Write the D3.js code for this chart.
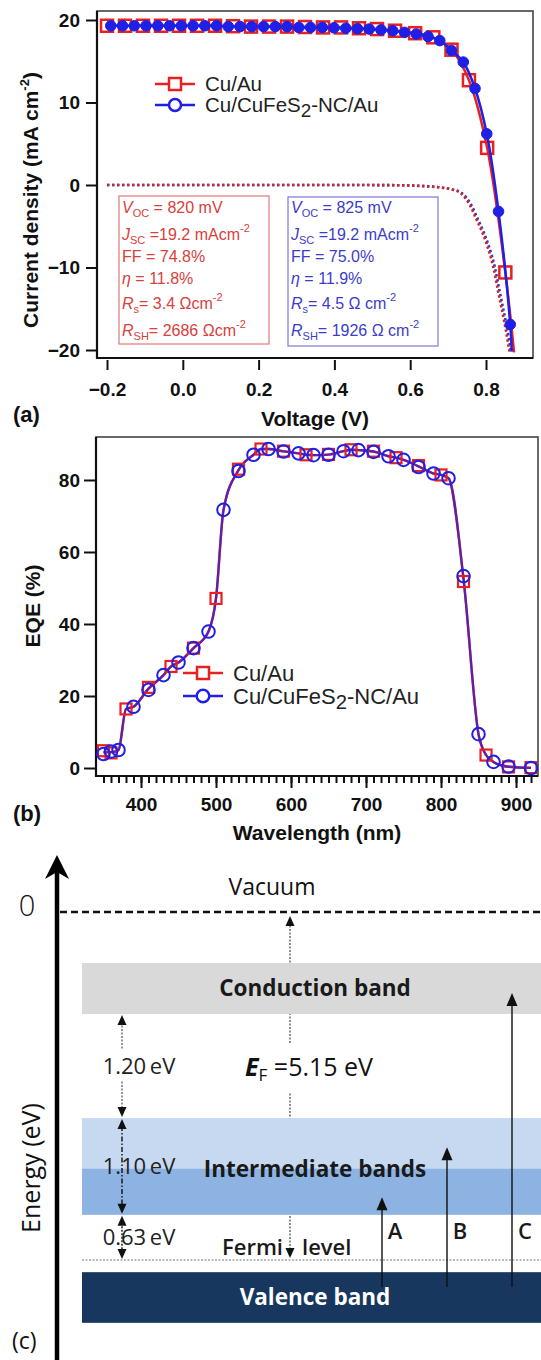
<!DOCTYPE html>
<html lang="en">
<head>
<meta charset="UTF-8">
<title>J-V, EQE and band diagram</title>
<script src="https://d3js.org/d3.v7.min.js"></script>
<style>
  * { margin: 0; padding: 0; }
  body { background: #fff; width: 541px; height: 1360px; overflow: hidden; }
  svg { display: block; font-family: 'Liberation Sans', Arial, sans-serif; }
  .diag text { font-family: 'Open Sans', 'Noto Sans', sans-serif; }
  .axis text { font-weight: bold; font-size: 19px; fill: #111; }
  .axis line { stroke: #111; stroke-width: 2; }
</style>
</head>
<body>
<svg id="fig" width="541" height="1360"></svg>
<script>
// ---- (a) J-V curves ----
const jvTicks = [-0.2, 0.0, 0.2, 0.4, 0.6, 0.8];
const jTicks = [-20, -10, 0, 10, 20];

// Cu/Au (red squares)
const auV = [-0.2, -0.1525, -0.105, -0.0575, -0.01, 0.0375, 0.085, 0.1325, 0.18, 0.2275, 0.275, 0.3225,
  0.37, 0.4175, 0.465, 0.5125, 0.56, 0.613, 0.661, 0.709, 0.755, 0.803, 0.851];
const auJ = [19.3, 19.3, 19.3, 19.3, 19.3, 19.3, 19.3, 19.25, 19.2, 19.2, 19.2, 19.15,
  19.1, 19.1, 19.0, 18.9, 18.7, 18.4, 17.9, 16.4, 12.7, 4.5, -10.6];
const auLineEnd = [0.874, -20.3];

// Cu/CuFeS2-NC/Au (blue circles)
const ncV = [-0.19, -0.159, -0.128, -0.097, -0.066, -0.035, -0.004, 0.027, 0.058, 0.089, 0.12, 0.151,
  0.182, 0.213, 0.244, 0.275, 0.306, 0.337, 0.368, 0.399, 0.43, 0.461, 0.492, 0.523, 0.554, 0.585,
  0.616, 0.647, 0.678, 0.709, 0.74, 0.771, 0.802, 0.833, 0.864];
const ncJ = [19.3, 19.3, 19.3, 19.3, 19.3, 19.3, 19.3, 19.3, 19.3, 19.3, 19.2, 19.2,
  19.2, 19.2, 19.2, 19.2, 19.1, 19.1, 19.1, 19.05, 19.0, 18.95, 18.9, 18.8, 18.7, 18.5,
  18.3, 18.0, 17.5, 16.3, 14.9, 11.7, 6.2, -3.2, -16.9];
const ncLineEnd = [0.868, -20.2];

// dark curves (dotted)
const darkAuV = [-0.2, 0.0, 0.2, 0.4, 0.55, 0.6, 0.64, 0.68, 0.71, 0.731, 0.758, 0.775, 0.789, 0.802, 0.819, 0.832, 0.85, 0.862];
const darkAuJ = [0.0, 0.0, 0.0, 0.0, -0.02, -0.06, -0.15, -0.3, -0.55, -0.9, -2.5, -4.2, -5.6, -7.2, -9.9, -12.9, -17.0, -20.2];
const darkNcV = [-0.2, 0.0, 0.2, 0.4, 0.55, 0.6, 0.64, 0.68, 0.712, 0.734, 0.762, 0.779, 0.793, 0.806, 0.823, 0.836, 0.854, 0.866];
const darkNcJ = [0.0, 0.0, 0.0, 0.0, -0.02, -0.06, -0.15, -0.3, -0.55, -0.9, -2.5, -4.2, -5.6, -7.2, -9.9, -12.9, -17.0, -20.2];

// device parameters: [Cu/Au, Cu/CuFeS2-NC/Au]
const pVoc = ['820', '825'];
const pJsc = ['19.2', '19.2'];
const pFF = ['74.8', '75.0'];
const pEta = ['11.8', '11.9'];
const pRs = ['3.4', '4.5'];
const pRsh = ['2686', '1926'];

const seriesNames = ['Cu/Au', 'Cu/CuFeS'];

// ---- (b) EQE ----
const eqeXTicks = [400, 500, 600, 700, 800, 900];
const eqeYTicks = [0, 20, 40, 60, 80];
const eqeAuNm = [350, 360, 380, 410, 440, 470, 500, 530, 560, 590, 620, 650, 680, 710, 740, 770, 800, 830, 860, 890, 920];
const eqeAu = [4.8, 4.2, 16.4, 22.4, 28.2, 33.3, 47.1, 83.0, 88.6, 88.0, 87.0, 87.1, 88.4, 88.0, 86.2, 84.0, 81.4, 51.8, 3.6, 0.3, 0.1];
const eqeNcNm = [350, 360, 370, 390, 410, 430, 450, 470, 490, 510, 530, 550, 570, 590, 610, 630, 650, 670, 690, 710,
  730, 750, 770, 790, 810, 830, 850, 870, 890, 920];
const eqeNc = [3.9, 4.6, 5.0, 17.0, 21.7, 25.8, 29.3, 33.3, 37.9, 71.7, 82.5, 87.0, 88.6, 87.9, 87.4, 86.9, 87.0, 88.0, 88.3, 87.8,
  86.6, 85.6, 83.6, 81.8, 80.5, 53.3, 9.4, 1.7, 0.4, 0.0];

// ---- (c) band diagram (schematic energy, eV below vacuum) ----
const levelE = [0, -5.15];                 // vacuum, Fermi level
const bandNames = ['Conduction band', 'Intermediate bands', '', 'Valence band'];
const bandTop = [-0.755, -3.05, -3.80, -5.33];
const bandBottom = [-1.51, -4.48, -4.48, -6.08];
const gapLabels = ['1.20', '1.10', '0.63'];
const gapFrom = [-1.51, -3.05, -4.48];
const gapTo = [-3.05, -4.48, -5.15];
const transNames = ['A', 'B', 'C'];
const transFrom = -5.55;
const transTo = [-4.22, -3.48, -1.20];
const fermiEF = '5.15';

const RED = '#e8201f', BLUE = '#1f1fe6';
const RED_T = '#d8403c', BLUE_T = '#3c3cc8';
const fig = d3.select('#fig');

// rich text helper: segs = [[text, kind]] kind: '', 'i', 'bi', 'sub', 'sup'
function rich(sel, segs, small) {
  let shift = 0;
  segs.forEach(([t, k]) => {
    const ts = sel.append('tspan').text(t);
    let target = 0;
    if (k === 'sub') target = small[1];
    if (k === 'sup') target = -small[2];
    ts.attr('dy', target - shift);
    shift = target;
    if (k === 'sub' || k === 'sup') ts.attr('font-size', small[0]);
    if (k === 'i') ts.attr('font-style', 'italic');
    if (k === 'bi') ts.attr('font-style', 'italic').attr('font-weight', 'bold');
  });
}

// ================= (a) =================
const xJ = d3.scaleLinear().domain([-0.2264, 0.924]).range([97, 533]);
const yJ = d3.scaleLinear().domain([-20.97, 21.09]).range([358, 11]);

const gA = fig.append('g');
gA.append('rect').attr('x', 97).attr('y', 11).attr('width', 436).attr('height', 347)
  .attr('fill', 'none').attr('stroke', '#444').attr('stroke-width', 1.6);

gA.append('g').attr('class', 'axis').attr('transform', 'translate(97,0)')
  .call(d3.axisLeft(yJ).tickValues(jTicks).tickSize(11).tickPadding(6).tickFormat(d3.format('d')))
  .call(g => g.select('.domain').remove());
gA.append('g').attr('class', 'axis').attr('transform', 'translate(0,360)')
  .call(d3.axisBottom(xJ).tickValues(jvTicks).tickSize(10).tickPadding(13).tickFormat(d3.format('.1f')))
  .call(g => g.select('.domain').remove());
gA.append('line').attr('x1', 97).attr('x2', 97).attr('y1', 11).attr('y2', 359).attr('stroke', '#111').attr('stroke-width', 2.2);
gA.append('line').attr('x1', 96).attr('x2', 533).attr('y1', 358).attr('y2', 358).attr('stroke', '#111').attr('stroke-width', 2.2);

// axis titles
gA.append('text').attr('transform', 'translate(38,200) rotate(-90)').attr('text-anchor', 'middle')
  .attr('font-size', 21).attr('font-weight', 'bold').attr('fill', '#111')
  .call(s => rich(s, [['Current density (mA cm', ''], ['-2', 'sup'], [')', '']], [13, 5, 9]));
gA.append('text').attr('x', 315).attr('y', 426).attr('text-anchor', 'middle')
  .attr('font-size', 21).attr('font-weight', 'bold').attr('fill', '#111').text('Voltage (V)');
gA.append('text').attr('x', 13).attr('y', 422).attr('font-size', 22).attr('font-weight', 'bold')
  .attr('fill', '#111').text('(a)');

const clipA = fig.append('clipPath').attr('id', 'clipA');
clipA.append('rect').attr('x', 97).attr('y', 11).attr('width', 436).attr('height', 347);
const plotA = gA.append('g').attr('clip-path', 'url(#clipA)');

// dark curves
const lineJ = d3.line().x(d => xJ(d[0])).y(d => yJ(d[1])).curve(d3.curveMonotoneX);
plotA.append('path').datum(d3.zip(darkNcV, darkNcJ)).attr('d', lineJ)
  .attr('fill', 'none').attr('stroke', '#3535c8').attr('stroke-width', 2.6)
  .attr('stroke-dasharray', '2.4,2.6');
plotA.append('path').datum(d3.zip(darkAuV, darkAuJ)).attr('d', lineJ)
  .attr('fill', 'none').attr('stroke', '#c8282e').attr('stroke-width', 2.6)
  .attr('stroke-dasharray', '2.4,2.6');

// light curves
const lineJc = d3.line().x(d => xJ(d[0])).y(d => yJ(d[1])).curve(d3.curveCatmullRom);
plotA.append('path').datum(d3.zip(auV, auJ).concat([auLineEnd])).attr('d', lineJc)
  .attr('fill', 'none').attr('stroke', RED).attr('stroke-width', 2.5);
plotA.selectAll('rect.au').data(d3.zip(auV, auJ)).join('rect').attr('class', 'au')
  .attr('x', d => xJ(d[0]) - 6).attr('y', d => yJ(d[1]) - 6).attr('width', 12).attr('height', 12)
  .attr('fill', 'none').attr('stroke', RED).attr('stroke-width', 2.5);
plotA.append('path').datum(d3.zip(ncV, ncJ).concat([ncLineEnd])).attr('d', lineJc)
  .attr('fill', 'none').attr('stroke', BLUE).attr('stroke-width', 2.5);
plotA.selectAll('circle.nc').data(d3.zip(ncV, ncJ)).join('circle').attr('class', 'nc')
  .attr('cx', d => xJ(d[0])).attr('cy', d => yJ(d[1])).attr('r', 5.3)
  .attr('fill', BLUE).attr('stroke', BLUE).attr('stroke-width', 1);

// legend
function legend(g, x0, y0, dy, fs, rSq, rCi) {
  [0, 1].forEach(i => {
    const y = y0 + i * dy;
    const c = i === 0 ? RED : BLUE;
    g.append('line').attr('x1', x0).attr('x2', x0 + 40).attr('y1', y).attr('y2', y)
      .attr('stroke', c).attr('stroke-width', 2.5);
    if (i === 0) {
      g.append('rect').attr('x', x0 + 20 - rSq).attr('y', y - rSq).attr('width', 2 * rSq).attr('height', 2 * rSq)
        .attr('fill', '#fff').attr('stroke', c).attr('stroke-width', 2.5);
    } else {
      g.append('circle').attr('cx', x0 + 20).attr('cy', y).attr('r', rCi)
        .attr('fill', '#fff').attr('stroke', c).attr('stroke-width', 2.5);
    }
    const t = g.append('text').attr('x', x0 + 50).attr('y', y + fs * 0.36).attr('font-size', fs).attr('fill', '#222');
    if (i === 0) t.text(seriesNames[0]);
    else rich(t, [[seriesNames[1], ''], ['2', 'sub'], ['-NC/Au', '']], [fs * 0.92, 5, 0]);
  });
}
legend(gA, 155, 84, 21, 20.5, 6, 6);

// parameter boxes
function paramBox(i, x0, y0, x1, y1, col, boxCol) {
  gA.append('rect').attr('x', x0).attr('y', y0).attr('width', x1 - x0).attr('height', y1 - y0)
    .attr('fill', 'none').attr('stroke', boxCol).attr('stroke-width', 1.2);
  const sp = i === 1 ? ' ' : '';
  const lines = [
    [['V', 'i'], ['OC', 'sub'], [' = ' + pVoc[i] + ' mV', '']],
    [['J', 'i'], ['SC', 'sub'], [' =' + pJsc[i] + ' mAcm', ''], ['-2', 'sup']],
    [['FF = ' + pFF[i] + '%', '']],
    [['\u03B7', 'i'], [' = ' + pEta[i] + '%', '']],
    [['R', 'i'], ['s', 'sub'], ['= ' + pRs[i] + ' \u03A9' + sp + 'cm', ''], ['-2', 'sup']],
    [['R', 'i'], ['SH', 'sub'], ['= ' + pRsh[i] + ' \u03A9' + sp + 'cm', ''], ['-2', 'sup']]
  ];
  const base = [213, 240, 262, 284, 309, 336];
  lines.forEach((segs, k) => {
    const t = gA.append('text').attr('x', x0 + 3).attr('y', base[k]).attr('font-size', 16).attr('fill', col);
    rich(t, segs, [11, 4, 8]);
  });
}
paramBox(0, 119, 196, 269, 344, RED_T, '#e07a78');
paramBox(1, 288, 197, 438, 346, BLUE_T, '#7a7ad8');

// ================= (b) =================
const xE = d3.scaleLinear().domain([340, 929.3]).range([96, 538]);
const yE = d3.scaleLinear().domain([-2.22, 91.94]).range([776, 437]);
const gB = fig.append('g');
gB.append('rect').attr('x', 96).attr('y', 437).attr('width', 442).attr('height', 339)
  .attr('fill', 'none').attr('stroke', '#444').attr('stroke-width', 1.6);
gB.append('g').attr('class', 'axis').attr('transform', 'translate(95,0)')
  .call(d3.axisLeft(yE).tickValues(eqeYTicks).tickSize(11).tickPadding(4))
  .call(g => g.select('.domain').remove());
gB.append('g').attr('class', 'axis').attr('transform', 'translate(0,777)')
  .call(d3.axisBottom(xE).tickValues(d3.range(350, 921, 10)).tickSize(6).tickFormat(''))
  .call(g => g.select('.domain').remove());
gB.append('g').attr('class', 'axis').attr('transform', 'translate(0,777)')
  .call(d3.axisBottom(xE).tickValues(eqeXTicks).tickSize(11).tickPadding(10))
  .call(g => g.select('.domain').remove());
gB.append('line').attr('x1', 96).attr('x2', 96).attr('y1', 437).attr('y2', 777).attr('stroke', '#111').attr('stroke-width', 2.2);
gB.append('line').attr('x1', 95).attr('x2', 538).attr('y1', 776).attr('y2', 776).attr('stroke', '#111').attr('stroke-width', 2.2);

gB.append('text').attr('transform', 'translate(40,606) rotate(-90)').attr('text-anchor', 'middle')
  .attr('font-size', 21).attr('font-weight', 'bold').attr('fill', '#111').text('EQE (%)');
gB.append('text').attr('x', 317).attr('y', 840).attr('text-anchor', 'middle')
  .attr('font-size', 21).attr('font-weight', 'bold').attr('fill', '#111').text('Wavelength (nm)');
gB.append('text').attr('x', 13).attr('y', 821).attr('font-size', 22).attr('font-weight', 'bold')
  .attr('fill', '#111').text('(b)');

// both devices follow one curve; draw it through the pooled points
const pooled = d3.rollups(d3.zip(eqeAuNm, eqeAu).concat(d3.zip(eqeNcNm, eqeNc)), v => d3.mean(v, d => d[1]), d => d[0])
  .sort((a, b) => a[0] - b[0]);
const lineE = d3.line().x(d => xE(d[0])).y(d => yE(d[1])).curve(d3.curveMonotoneX);
gB.append('path').datum(pooled).attr('d', lineE)
  .attr('fill', 'none').attr('stroke', RED).attr('stroke-width', 2.4);
gB.append('path').datum(pooled).attr('d', lineE)
  .attr('fill', 'none').attr('stroke', '#2a1ee0').attr('stroke-width', 2.4).attr('stroke-opacity', 0.7);
gB.selectAll('rect.au').data(d3.zip(eqeAuNm, eqeAu)).join('rect').attr('class', 'au')
  .attr('x', d => xE(d[0]) - 5.5).attr('y', d => yE(d[1]) - 5.5).attr('width', 11).attr('height', 11)
  .attr('fill', 'none').attr('stroke', RED).attr('stroke-width', 2.2);
gB.selectAll('circle.nc').data(d3.zip(eqeNcNm, eqeNc)).join('circle').attr('class', 'nc')
  .attr('cx', d => xE(d[0])).attr('cy', d => yE(d[1])).attr('r', 6.3)
  .attr('fill', 'none').attr('stroke', BLUE).attr('stroke-width', 2);
legend(gB, 183, 673, 23, 22, 6, 6.3);

// ================= (c) =================
const yB = d3.scaleLinear().domain([0, -5.15]).range([912, 1260]);
const xT = d3.scalePoint().domain(transNames).range([382, 512]);
const gC = fig.append('g').attr('class', 'diag');
const bandFill = ['#d9d9d9', '#c6d9f0', '#8db3e2', '#17375e'];

function head(g, x, yTip, dir, w, h) {
  g.append('path').attr('d', `M${x},${yTip} L${x - w / 2},${yTip + dir * h} L${x + w / 2},${yTip + dir * h} Z`)
    .attr('fill', '#111');
}

// axis arrow
gC.append('line').attr('x1', 57).attr('x2', 57).attr('y1', 1360).attr('y2', 870)
  .attr('stroke', '#000').attr('stroke-width', 4.5);
gC.append('path').attr('d', 'M57,855 L45,879 L57,872 L69,879 Z').attr('fill', '#000');
gC.append('text').attr('x', 27).attr('y', 916).attr('text-anchor', 'middle').attr('font-size', 29)
  .attr('font-weight', 300).attr('fill', '#111').text('0');
gC.append('text').attr('transform', 'translate(40,1168) rotate(-90)').attr('text-anchor', 'middle')
  .attr('font-size', 25).attr('fill', '#111').text('Energy (eV)');
gC.append('text').attr('x', 12).attr('y', 1349).attr('font-size', 23).attr('fill', '#111').text('(c)');

// E_F arrow (behind bands)
const xF = 290;
gC.append('line').attr('x1', xF).attr('x2', xF).attr('y1', yB(levelE[0]) + 10).attr('y2', yB(levelE[1]) - 10)
  .attr('stroke', '#555').attr('stroke-width', 1.3).attr('stroke-dasharray', '2,1.5');
head(gC, xF, yB(levelE[0]) + 4, 1, 9, 10);
head(gC, xF, yB(levelE[1]) - 2, -1, 9, 10);

// bands
bandTop.forEach((t, i) => {
  gC.append('rect').attr('x', 82).attr('y', yB(t)).attr('width', 541 - 82).attr('height', yB(bandBottom[i]) - yB(t))
    .attr('fill', bandFill[i]);
});

// vacuum and Fermi level lines
gC.append('line').attr('x1', 60).attr('x2', 541).attr('y1', yB(levelE[0])).attr('y2', yB(levelE[0]))
  .attr('stroke', '#111').attr('stroke-width', 2.4).attr('stroke-dasharray', '7,4');
gC.append('line').attr('x1', 82).attr('x2', 541).attr('y1', yB(levelE[1])).attr('y2', yB(levelE[1]))
  .attr('stroke', '#777').attr('stroke-width', 1.2).attr('stroke-dasharray', '2,1.5');

// band labels
gC.append('text').attr('x', 272).attr('y', 895).attr('text-anchor', 'middle').attr('font-size', 23)
  .attr('fill', '#111').text('Vacuum');
const labelY = [996, 1177, 0, 1305];
bandNames.forEach((n, i) => {
  if (!n) return;
  gC.append('text').attr('x', 315).attr('y', labelY[i]).attr('text-anchor', 'middle')
    .attr('font-size', 22.5).attr('font-weight', 'bold').attr('fill', i === 3 ? '#fff' : '#1a1a1a').text(n);
});
gC.append('text').attr('x', 283).attr('y', 1255).attr('text-anchor', 'end').attr('font-size', 22)
  .attr('font-weight', 600).attr('fill', '#1a1a1a').text('Fermi');
gC.append('text').attr('x', 302).attr('y', 1255).attr('font-size', 22)
  .attr('font-weight', 600).attr('fill', '#1a1a1a').text('level');

// E_F label with white backing
const efT = gC.append('text').attr('x', 245).attr('y', 1076).attr('font-size', 25).attr('fill', '#111');
rich(efT, [['E', 'bi'], ['F', 'sub'], [' =' + fermiEF + ' eV', '']], [17, 5, 0]);
const bb = efT.node().getBBox();
gC.insert('rect', () => efT.node()).attr('x', bb.x - 2).attr('y', bb.y - 6).attr('width', bb.width + 4)
  .attr('height', bb.height + 12).attr('fill', '#fff');

// gap arrows
const xG = 122;
const gapStyle = [['#666', '2,1.5'], ['#111', '5,2,1.5,2'], ['#111', '2,1.5']];
gapLabels.forEach((g, i) => {
  const y0 = yB(gapFrom[i]), y1 = yB(gapTo[i]);
  gC.append('line').attr('x1', xG).attr('x2', xG).attr('y1', y0 + 8).attr('y2', y1 - 8)
    .attr('stroke', gapStyle[i][0]).attr('stroke-width', 1.4).attr('stroke-dasharray', gapStyle[i][1]);
  head(gC, xG, y0 + 1, 1, 9, 10);
  head(gC, xG, y1 - 1, -1, 9, 10);
  const t = gC.append('text').attr('x', 139).attr('y', (y0 + y1) / 2 + 8).attr('text-anchor', 'middle')
    .attr('font-size', 22).attr('fill', '#222').text(g + '\u2009eV');
  if (i === 0) {
    const b = t.node().getBBox();
    gC.insert('rect', () => t.node()).attr('x', xG - 4).attr('y', b.y).attr('width', 8)
      .attr('height', b.height).attr('fill', '#fff');
  }
});

// transitions A, B, C
transNames.forEach((n, i) => {
  const x = xT(n);
  gC.append('line').attr('x1', x).attr('x2', x).attr('y1', yB(transFrom)).attr('y2', yB(transTo[i]) + 10)
    .attr('stroke', '#111').attr('stroke-width', 1.4);
  head(gC, x, yB(transTo[i]), 1, 11, 13);
  gC.append('text').attr('x', x + 13).attr('y', 1239).attr('text-anchor', 'middle').attr('font-size', 22)
    .attr('font-weight', 600).attr('fill', '#1a1a1a').text(n);
});
</script>
</body>
</html>
